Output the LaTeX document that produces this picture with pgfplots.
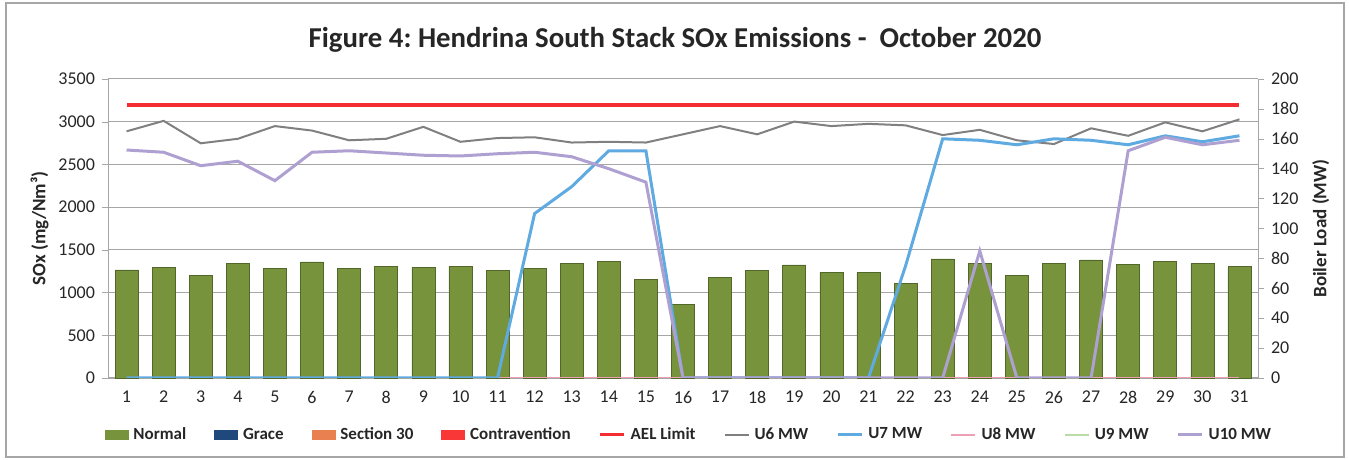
\documentclass[border=0pt]{standalone}
\usepackage{pgfplots}
\pgfplotsset{compat=1.18}
\usepackage{fontspec}
\setmainfont{Carlito}
\definecolor{barg}{RGB}{119,147,60}
\definecolor{grace}{RGB}{31,73,125}
\definecolor{sec}{RGB}{232,128,80}
\definecolor{contra}{RGB}{250,55,55}
\definecolor{ael}{RGB}{245,45,50}
\definecolor{usix}{RGB}{128,128,128}
\definecolor{useven}{RGB}{95,170,225}
\definecolor{ueight}{RGB}{235,160,180}
\definecolor{unine}{RGB}{185,220,165}
\definecolor{uten}{RGB}{175,160,210}
\pgfplotstableread{
x sox
1 1265
2 1295
3 1205
4 1340
5 1280
6 1360
7 1285
8 1305
9 1295
10 1310
11 1260
12 1285
13 1340
14 1365
15 1150
16 860
17 1175
18 1255
19 1325
20 1240
21 1235
22 1105
23 1393
24 1338
25 1198
26 1338
27 1383
28 1328
29 1362
30 1338
31 1302
}\soxdata
\pgfplotstableread{
x u6 u7 u8 u9 u10
1 165 0 0 0 152.5
2 172 0 0 0 151
3 157 0 0 0 142
4 160 0 0 0 145
5 168.5 0 0 0 132
6 165.5 0 0 0 151
7 159 0 0 0 152
8 160 0 0 0 150.5
9 168 0 0 0 149
10 158 0 0 0 148.5
11 160.5 0 0 0 150
12 161 110 0 0 151
13 157.5 128 0 0 148
14 158 152 0 0 140
15 157.5 152 0 0 131
16 163 0 0 0 0
17 168.5 0 0 0 0
18 163 0 0 0 0
19 171.5 0 0 0 0
20 168.5 0 0 0 0
21 170 0 0 0 0
22 169 75 0 0 0
23 162.5 160 0 0 0
24 166 159 0 0 85
25 159 156 0 0 0
26 156.5 160 0 0 0
27 167 159 0 0 0
28 162 156 0 0 152
29 171 162 0 0 161
30 165 158 0 0 156
31 173 162 0 0 159
}\mwdata
\begin{document}
\begin{tikzpicture}
\path[use as bounding box] (0,0) rectangle (674.5pt,230pt);
\draw[gray!70, line width=0.6pt] (3pt,1.5pt) rectangle (672pt,228.5pt);
\node[font=\bfseries\fontsize{14.4}{16}\selectfont, text=black!85] at (337.5pt,210pt) {Figure 4:\ Hendrina South Stack SOx Emissions -~ October 2020};
\begin{axis}[
  at={(54pt,41pt)}, anchor=south west,
  width=575pt, height=149.5pt, scale only axis,
  xmin=0.5, xmax=31.5, ymin=0, ymax=3500,
  xtick={1,...,31}, ytick={0,500,...,3500},
  ymajorgrids, grid style={gray!70, line width=0.5pt},
  axis line style={gray!70},
  axis y line*=left, axis x line*=bottom,
  x axis line style={-, draw=gray!70},
  y axis line style={-},
  major x tick style={draw=none},
  tick align=outside, major tick length=3pt,
  major y tick style={gray!70},
  ticklabel style={font=\fontsize{9}{10}\selectfont, text=black!85},
  /pgf/number format/assume math mode=true,
  scaled y ticks=false,
  yticklabel style={/pgf/number format/1000 sep={}},
  ylabel={SOx (mg/Nm³)},
  ylabel style={font=\bfseries\fontsize{9.5}{11}\selectfont, text=black!85, yshift=-2pt},
  clip=false,
]
\addplot[ybar, bar width=0.62, fill=barg, draw=barg!70!black, line width=0.3pt] table[x=x,y=sox] {\soxdata};
\addplot[ael, line width=2pt] coordinates {(1,3200) (31,3200)};
\end{axis}
\begin{axis}[
  at={(54pt,41pt)}, anchor=south west,
  width=575pt, height=149.5pt, scale only axis,
  xmin=0.5, xmax=31.5, ymin=0, ymax=200,
  ytick={0,20,...,200},
  axis y line*=right, axis x line=none,
  axis line style={gray!70, -},
  tick align=outside, major tick length=3pt,
  major y tick style={gray!70},
  ticklabel style={font=\fontsize{9}{10}\selectfont, text=black!85},
  /pgf/number format/assume math mode=true,
  ylabel={Boiler Load (MW)},
  ylabel style={font=\bfseries\fontsize{9.5}{11}\selectfont, text=black!85},
  legend columns=10,
  legend style={at={(axis description cs:0.506,-0.1906)}, anchor=center, draw=none, fill=none,
    font=\bfseries\fontsize{8.5}{10}\selectfont, text=black!85,
    /tikz/every odd column/.append style={column sep=0.5pt},
    /tikz/every even column/.append style={column sep=12pt}},
  legend cell align=left,
]
\addlegendimage{legend image code/.code={\fill[barg] (0pt,-2.4pt) rectangle (11.5pt,2.4pt);}}
\addlegendentry{Normal}
\addlegendimage{legend image code/.code={\fill[grace] (0pt,-2.4pt) rectangle (11.5pt,2.4pt);}}
\addlegendentry{Grace}
\addlegendimage{legend image code/.code={\fill[sec] (0pt,-2.4pt) rectangle (11.5pt,2.4pt);}}
\addlegendentry{Section 30}
\addlegendimage{legend image code/.code={\fill[contra] (0pt,-2.4pt) rectangle (11.5pt,2.4pt);}}
\addlegendentry{Contravention}
\addlegendimage{legend image code/.code={\draw[ael, line width=1.5pt] (0pt,0pt) -- (12pt,0pt);}}
\addlegendentry{AEL Limit}
\pgfplotsset{legend image code/.code={\draw[#1] (0pt,0pt) -- (12pt,0pt);}}
\addplot[unine, line width=1.2pt, forget plot] table[x=x,y=u9] {\mwdata};
\addplot[ueight, line width=1.2pt, forget plot] table[x=x,y=u8] {\mwdata};
\addplot[usix, line width=1pt] table[x=x,y=u6] {\mwdata};
\addlegendentry{U6 MW}
\addplot[useven, line width=1.5pt] table[x=x,y=u7] {\mwdata};
\addlegendentry{U7 MW}
\addlegendimage{ueight, line width=1.2pt}
\addlegendentry{U8 MW}
\addlegendimage{unine, line width=1.2pt}
\addlegendentry{U9 MW}
\addplot[uten, line width=1.5pt] table[x=x,y=u10] {\mwdata};
\addlegendentry{U10 MW}
\end{axis}
\end{tikzpicture}
\end{document}
